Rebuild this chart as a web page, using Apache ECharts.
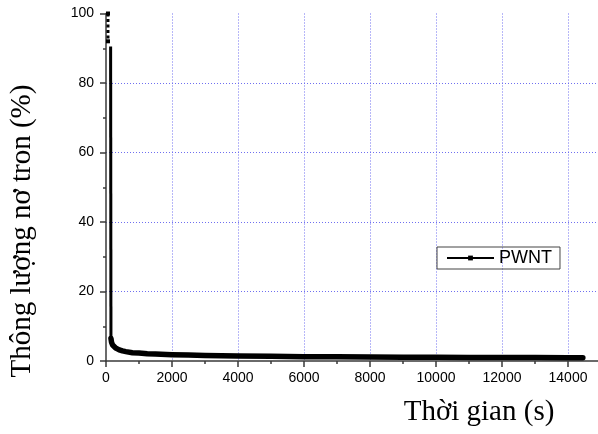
<!DOCTYPE html>
<html>
<head>
<meta charset="utf-8">
<script src="https://cdn.jsdelivr.net/npm/echarts@6/dist/echarts.min.js"></script>
<style>
  html, body { margin: 0; padding: 0; background: #fff; }
  #chart { width: 598px; height: 434px; }
</style>
</head>
<body>
<div id="chart"></div>
<script>
// Neutron flux (%) over time (s) for PWNT
const xTicks = [0, 2000, 4000, 6000, 8000, 10000, 12000, 14000];
const yTicks = [0, 20, 40, 60, 80, 100];

// first readings, scattered near full flux
const startTimes = [60, 60];
const startValues = [100, 92];

// fast drop
const dropTimes = [140, 150];
const dropValues = [90.5, 6.5];

// slow decay
const decayTimes = [150, 170, 200, 250, 300, 400, 500, 600, 800, 1000, 1250, 1500, 2000, 2500, 3000,
  3500, 4000, 5000, 6000, 7000, 8000, 9000, 10000, 11000, 12000, 13000, 14000, 14450];
const decayValues = [6.5, 5.3, 4.6, 4.1, 3.7, 3.2, 2.9, 2.7, 2.4, 2.3, 2.1, 2.0, 1.8, 1.7, 1.6,
  1.5, 1.45, 1.35, 1.25, 1.2, 1.15, 1.1, 1.05, 1.0, 1.0, 1.0, 0.95, 0.95];

const pairs = (xs, ys) => xs.map((x, i) => [x, ys[i]]);

const axisColor = '#3a3a3a';
const gridColor = '#6f6ff0';
const labelFont = { fontFamily: 'Liberation Sans', fontSize: 14, color: '#000' };

const chart = echarts.init(document.getElementById('chart'), null, { renderer: 'canvas' });
chart.setOption({
  animation: false,
  backgroundColor: '#fff',
  // the x axis runs on past the right edge of the canvas
  grid: { left: 106, width: 528, top: 13.5, bottom: 73, containLabel: false, outerBoundsMode: 'none' },
  xAxis: {
    type: 'value', min: 0, max: 16000, interval: 2000,
    axisLine: { show: true, onZero: false, lineStyle: { color: axisColor, width: 1.5 } },
    axisTick: { show: true, inside: false, length: 6, lineStyle: { color: axisColor, width: 1.5 } },
    minorTick: { show: true, splitNumber: 2, length: 3, lineStyle: { color: axisColor, width: 1.5 } },
    axisLabel: Object.assign({ margin: 10, formatter: v => xTicks.includes(v) ? String(v) : '' }, labelFont),
    splitLine: { show: true, showMinLine: false, showMaxLine: false, lineStyle: { color: gridColor, type: [1, 2], width: 1 } }
  },
  yAxis: {
    type: 'value', min: 0, max: 100, interval: 20,
    axisLine: { show: true, onZero: false, lineStyle: { color: axisColor, width: 1.5 } },
    axisTick: { show: true, inside: false, length: 6, lineStyle: { color: axisColor, width: 1.5 } },
    minorTick: { show: true, splitNumber: 2, length: 3, lineStyle: { color: axisColor, width: 1.5 } },
    axisLabel: Object.assign({ margin: 12, formatter: v => yTicks.includes(v) ? String(v) : '' }, labelFont),
    splitLine: { show: true, showMinLine: false, showMaxLine: false, lineStyle: { color: gridColor, type: [1, 2], width: 1 } }
  },
  legend: {
    show: true,
    data: ['PWNT'],
    left: 437, top: 247,
    orient: 'vertical',
    padding: [2, 8, 2, 9],
    borderColor: '#444', borderWidth: 1,
    itemWidth: 47, itemHeight: 6,
    textStyle: { fontFamily: 'Liberation Sans', fontSize: 18, color: '#000' },
    lineStyle: { width: 2 }
  },
  series: [
    {
      name: 'PWNT', type: 'line',
      data: pairs(dropTimes, dropValues),
      symbol: 'rect', symbolSize: 5, showSymbol: false,
      lineStyle: { color: '#000', width: 3 }, itemStyle: { color: '#000' },
      z: 3
    },
    {
      name: 'PWNT', type: 'line',
      data: pairs(decayTimes, decayValues),
      symbol: 'rect', symbolSize: 5, showSymbol: false, smooth: false,
      lineStyle: { color: '#000', width: 5.5, join: 'round', cap: 'round' }, itemStyle: { color: '#000' },
      z: 3
    },
    {
      name: 'start', type: 'line',
      data: pairs(startTimes, startValues),
      symbol: 'rect', symbolSize: 4, showSymbol: true,
      lineStyle: { color: '#000', width: 3, type: [3, 2.5] }, itemStyle: { color: '#000' },
      z: 3
    }
  ],
  graphic: [
    {
      type: 'text', x: 22, y: 231, rotation: Math.PI / 2,
      style: { text: 'Thông lượng nơ tron (%)', font: '29px "Liberation Serif"', fill: '#000', align: 'center', verticalAlign: 'middle' }
    },
    {
      type: 'text', x: 479, y: 412,
      style: { text: 'Thời gian (s)', font: '29px "Liberation Serif"', fill: '#000', align: 'center', verticalAlign: 'middle' }
    }
  ]
});
</script>
</body>
</html>
